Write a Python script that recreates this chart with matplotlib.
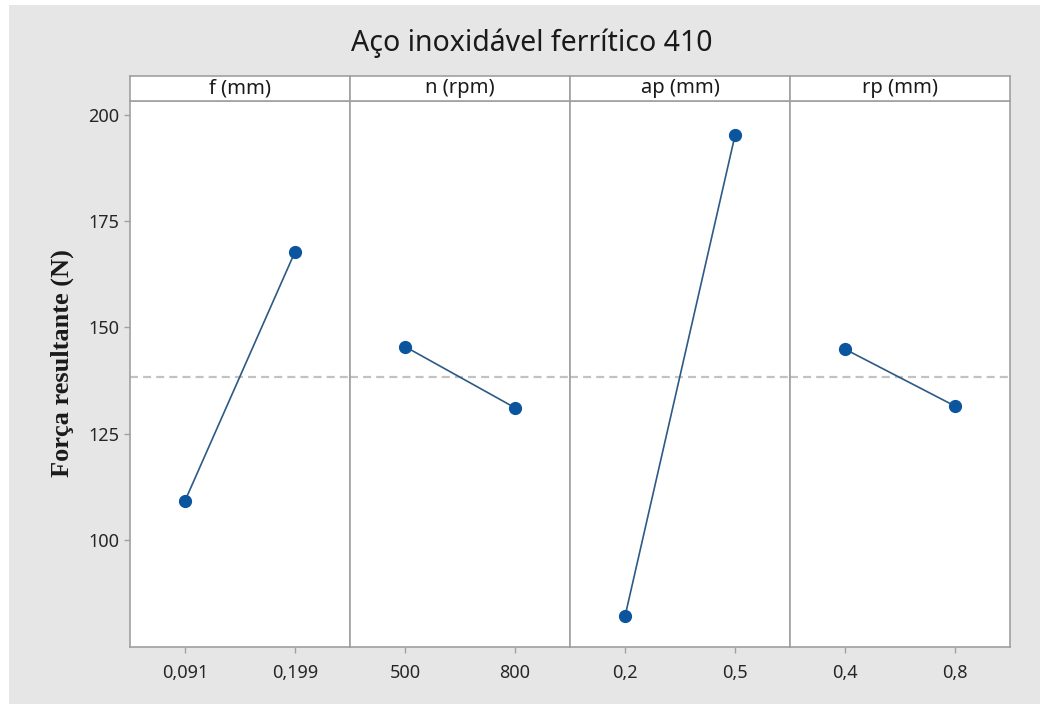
import numpy as np
import matplotlib
matplotlib.use("Agg")
import matplotlib.pyplot as plt
from matplotlib.patches import Rectangle

# main effects for the ferritic steel
factors = ["f (mm)", "n (rpm)", "ap (mm)", "rp (mm)"]
levels = [["0,091", "0,199"], ["500", "800"], ["0,2", "0,5"], ["0,4", "0,8"]]
means = [[109.2, 167.8], [145.5, 131.1], [82.0, 195.2], [144.9, 131.5]]
yticks = [100, 125, 150, 175, 200]

grand_mean = np.mean(means)

plt.rcParams["font.family"] = ["Noto Sans", "DejaVu Sans"]

W, H = 1059, 704
fig = plt.figure(figsize=(W / 100, H / 100), dpi=100, facecolor="white")

# grey backdrop
fig.patches.append(Rectangle((9 / W, 0), 1031 / W, 699 / H, transform=fig.transFigure,
                             facecolor="#e6e6e6", edgecolor="none", zorder=-10))

left, right = 130 / W, 1010 / W
bottom, top = 1 - 647 / H, 1 - 101 / H
strip_h = 25 / H
pw = (right - left) / len(factors)
edge = "#a0a0a0"
blue = "#0b559e"

for i, (name, labs, vals) in enumerate(zip(factors, levels, means)):
    ax = fig.add_axes([left + i * pw, bottom, pw, top - bottom])
    x = np.arange(len(vals))
    ax.plot(x, vals, color="#2d5a85", lw=1.2, zorder=2)
    ax.plot(x, vals, "o", color=blue, ms=8.5, zorder=3)
    ax.axhline(grand_mean, color="#c2c2c2", lw=1.6, ls=(0, (3.6, 2.3)), zorder=1)
    ax.set_xlim(-0.5, 1.5)
    ax.set_ylim(74.8, 203.3)
    ax.set_xticks(x)
    ax.set_xticklabels(labs)
    ax.set_yticks(yticks)
    for s in ax.spines.values():
        s.set_color(edge)
        s.set_linewidth(1.2)
    ax.tick_params(axis="both", colors=edge, labelcolor="#262626", labelsize=13,
                   length=4, width=1)
    ax.tick_params(axis="x", pad=8)
    if i > 0:
        ax.tick_params(axis="y", left=False, labelleft=False)

    # panel header
    sax = fig.add_axes([left + i * pw, top, pw, strip_h])
    sax.set_xticks([])
    sax.set_yticks([])
    sax.set_facecolor("white")
    for s in sax.spines.values():
        s.set_color(edge)
        s.set_linewidth(1.2)
    sax.text(0.5, 0.5, name, ha="center", va="center", fontsize=14.5, color="#1a1a1a",
             transform=sax.transAxes)

fig.text(62 / W, 1 - 363 / H, "Força resultante (N)", rotation=90, ha="center", va="center",
         family="Liberation Serif", fontweight="bold", fontsize=19, color="#1a1a1a")

fig.text(532 / W, 1 - 43 / H, "Aço inoxidável ferrítico 410", ha="center", va="center",
         fontsize=20.5, color="#1a1a1a")

fig.savefig("out.png", dpi=100, facecolor=fig.get_facecolor())
